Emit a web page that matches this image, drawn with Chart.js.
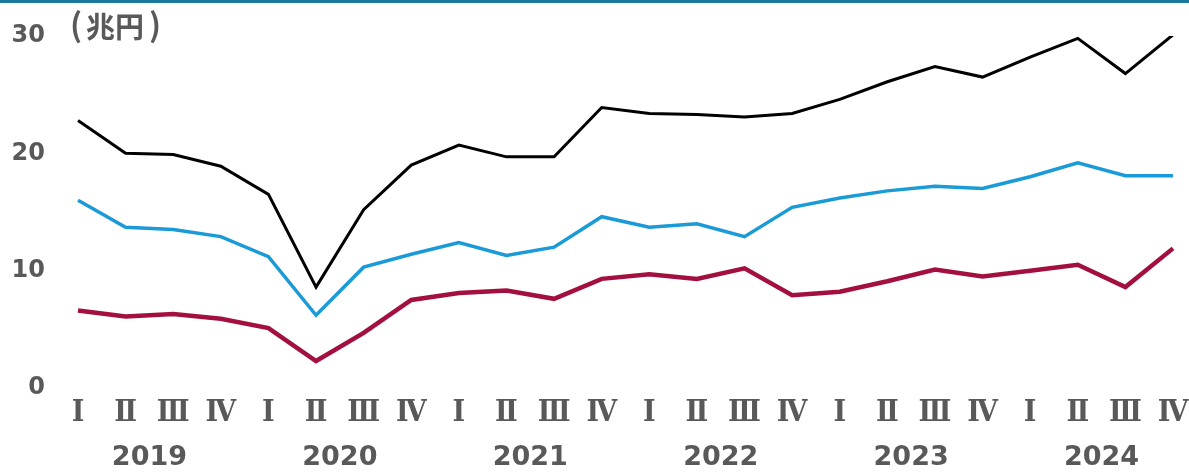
<!DOCTYPE html>
<html>
<head>
<meta charset="utf-8">
<script src="https://cdn.jsdelivr.net/npm/chart.js@4/dist/chart.umd.min.js"></script>
<style>
  html, body { margin: 0; padding: 0; background: #fff; }
  #wrap { width: 1189px; height: 472px; position: relative; }
</style>
</head>
<body>
<div id="wrap"><canvas id="chart"></canvas></div>
<script>
// 四半期ラベルと年ラベル
const quarters = ['Ⅰ','Ⅱ','Ⅲ','Ⅳ','Ⅰ','Ⅱ','Ⅲ','Ⅳ','Ⅰ','Ⅱ','Ⅲ','Ⅳ','Ⅰ','Ⅱ','Ⅲ','Ⅳ','Ⅰ','Ⅱ','Ⅲ','Ⅳ','Ⅰ','Ⅱ','Ⅲ','Ⅳ'];
const years = ['2019', '2020', '2021', '2022', '2023', '2024'];
const yTicks = [0, 10, 20, 30];

// 系列データ (兆円)
const blackSeries = [22.8, 20.0, 19.9, 18.9, 16.5, 8.6, 15.2, 19.0, 20.7, 19.7, 19.7, 23.9,
                     23.4, 23.3, 23.1, 23.4, 24.6, 26.1, 27.4, 26.5, 28.2, 29.8, 26.8, 30.1];
const blueSeries  = [16.0, 13.7, 13.5, 12.9, 11.2, 6.2, 10.3, 11.4, 12.4, 11.3, 12.0, 14.6,
                     13.7, 14.0, 12.9, 15.4, 16.2, 16.8, 17.2, 17.0, 18.0, 19.2, 18.1, 18.1];
const redSeries   = [6.6, 6.1, 6.3, 5.9, 5.1, 2.3, 4.7, 7.5, 8.1, 8.3, 7.6, 9.3,
                     9.7, 9.3, 10.2, 7.9, 8.2, 9.1, 10.1, 9.5, 10.0, 10.5, 8.6, 11.9];

const GRAY = '#595959';

// 上端の線と単位ラベル
const decor = {
    id: 'decor',
    beforeDraw(chart) {
        const c = chart.ctx;
        c.save();
        c.fillStyle = '#1b7a9e';
        c.fillRect(0, 0, chart.width, 3);
        c.restore();
    },
    afterDraw(chart) {
        const c = chart.ctx;
        c.save();
        c.fillStyle = GRAY;
        c.textBaseline = 'middle';
        c.font = 'bold 32px "Noto Sans CJK JP"';
        c.fillText('(', 70, 25);
        c.fillText(')', 149, 25);
        c.font = 'bold 29px "Noto Sans CJK JP"';
        c.fillText('兆円', 86, 27);
        c.restore();
    }
};

new Chart(document.getElementById('chart'), {
    type: 'line',
    data: {
        labels: quarters,
        datasets: [
            { data: blackSeries, borderColor: '#000000', borderWidth: 3 },
            { data: blueSeries, borderColor: '#1a9ad6', borderWidth: 3.5 },
            { data: redSeries, borderColor: '#a3103f', borderWidth: 4.5 }
        ]
    },
    options: {
        responsive: true,
        maintainAspectRatio: false,
        animation: false,
        layout: { padding: { top: 36, right: 16, left: 0, bottom: 0 } },
        elements: { point: { radius: 0 }, line: { tension: 0, borderCapStyle: 'butt', borderJoinStyle: 'miter' } },
        plugins: { legend: { display: false }, tooltip: { enabled: false } },
        scales: {
            x: {
                grid: { display: false, drawTicks: false },
                border: { display: false },
                ticks: {
                    autoSkip: false, maxRotation: 0, padding: 7, color: GRAY,
                    font: { family: '"DejaVu Serif Condensed", "DejaVu Serif", "Noto Sans CJK JP"', size: 30, weight: 'bold' }
                },
                afterFit(s) { s.height = 36; s.paddingLeft = 0; s.paddingRight = 0; }
            },
            x2: {
                type: 'linear', position: 'bottom', min: 0, max: quarters.length - 1,
                grid: { display: false, drawTicks: false },
                border: { display: false },
                afterBuildTicks(s) { s.ticks = years.map((y, i) => ({ value: i * 4 + 1.5 })); },
                ticks: {
                    padding: 18, color: GRAY, maxRotation: 0,
                    font: { family: '"DejaVu Sans"', size: 27, weight: 'bold' },
                    callback: (v) => years[Math.round((v - 1.5) / 4)]
                },
                afterFit(s) { s.height = 48; s.paddingLeft = 0; s.paddingRight = 0; }
            },
            y: {
                min: 0, max: 30,
                grid: { display: false, drawTicks: false },
                border: { display: false },
                afterBuildTicks(s) { s.ticks = yTicks.map(v => ({ value: v })); },
                ticks: {
                    padding: 33, color: GRAY,
                    font: { family: '"DejaVu Sans"', size: 24, weight: 'bold' }
                },
                afterFit(s) { s.width = 78; s.paddingTop = 0; s.paddingBottom = 0; }
            }
        }
    },
    plugins: [decor]
});
</script>
</body>
</html>
